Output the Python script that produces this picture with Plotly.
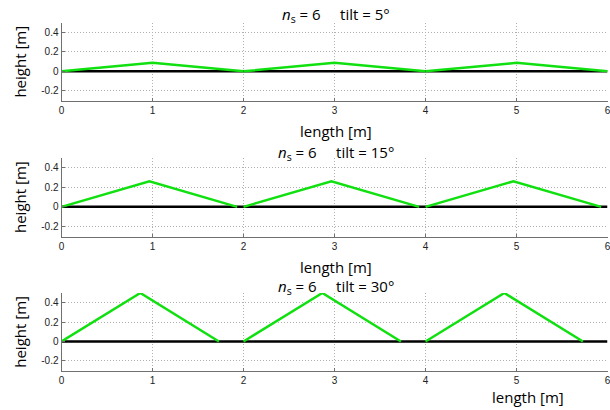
import plotly.graph_objects as go

# ---- data ----
tilts = [5, 15, 30]
n_s = 6
# roof profile points (None breaks the line between panels)
x_tilt5 = [0, 1.0, 2.0, None, 2.0, 3.0, 4.0, None, 4.0, 5.0, 6.0]
y_tilt5 = [0, 0.087, 0, None, 0, 0.087, 0, None, 0, 0.087, 0]
x_tilt15 = [0, 0.966, 1.93, None, 2.0, 2.966, 3.93, None, 4.0, 4.966, 5.93]
y_tilt15 = [0, 0.259, 0, None, 0, 0.259, 0, None, 0, 0.259, 0]
x_tilt30 = [0, 0.866, 1.73, None, 2.0, 2.866, 3.73, None, 4.0, 4.866, 5.73]
y_tilt30 = [0, 0.5, 0, None, 0, 0.5, 0, None, 0, 0.5, 0]
ground_x = [0, 6]
ground_y = [0, 0]
x_ticks = [0, 1, 2, 3, 4, 5, 6]
y_ticks = [-0.2, 0, 0.2, 0.4]
y_ticklabels = ["-0.2", "0", "0.2", "0.4"]

profiles = [(x_tilt5, y_tilt5), (x_tilt15, y_tilt15), (x_tilt30, y_tilt30)]

W, H = 610, 410
xdom = [61.5 / W, 607.5 / W]
# (top_px, bottom_px) of each panel
panels_px = [(22.7, 100.5), (157.5, 236.5), (293.0, 370.5)]

fig = go.Figure()
annotations = []
title_y = [15, 153, 287]
xlabel_pos = [(336, 131), (336, 267), (528, 397)]

for i, ((top, bot), (px, py)) in enumerate(zip(panels_px, profiles)):
    n = i + 1
    xa = "x" if n == 1 else f"x{n}"
    ya = "y" if n == 1 else f"y{n}"
    fig.add_trace(go.Scatter(x=ground_x, y=ground_y, mode="lines",
                             line=dict(color="black", width=2.5),
                             xaxis=xa, yaxis=ya, showlegend=False, hoverinfo="skip"))
    fig.add_trace(go.Scatter(x=px, y=py, mode="lines",
                             line=dict(color="#10e010", width=2.5),
                             xaxis=xa, yaxis=ya, showlegend=False, connectgaps=False))
    ydom = [1 - bot / H, 1 - top / H]
    xkey = "xaxis" if n == 1 else f"xaxis{n}"
    ykey = "yaxis" if n == 1 else f"yaxis{n}"
    fig.update_layout(**{
        xkey: dict(domain=xdom, range=[0, 6], anchor=ya, automargin=False,
                   tickvals=x_ticks, ticktext=[str(t) for t in x_ticks],
                   ticklabeloverflow="allow",
                   showgrid=True, gridcolor="#b0b0b0", griddash="1px,2px", gridwidth=1,
                   showline=True, linecolor="#707070", linewidth=1,
                   ticks="inside", ticklen=3, tickcolor="#707070",
                   tickfont=dict(family="Liberation Sans, Arial", size=10, color="#222"),
                   zeroline=False, fixedrange=True),
        ykey: dict(domain=ydom, range=[-0.3, 0.5], anchor=xa, automargin=False,
                   tickvals=y_ticks, ticktext=y_ticklabels,
                   showgrid=True, gridcolor="#b0b0b0", griddash="1px,2px", gridwidth=1,
                   showline=True, linecolor="#707070", linewidth=1,
                   ticks="inside", ticklen=3, tickcolor="#707070",
                   tickfont=dict(family="Liberation Sans, Arial", size=10, color="#222"),
                   zeroline=False, fixedrange=True),
    })
    # panel title
    annotations.append(dict(
        x=336 / W, y=1 - title_y[i] / H, xref="paper", yref="paper",
        xanchor="center", yanchor="middle", showarrow=False,
        text=f"<i>n</i><sub>s</sub> = {n_s}\u00a0\u00a0\u00a0\u00a0\u00a0tilt = {tilts[i]}°",
        font=dict(family="Open Sans", size=15, color="black")))
    # x label
    annotations.append(dict(
        x=xlabel_pos[i][0] / W, y=1 - xlabel_pos[i][1] / H, xref="paper", yref="paper",
        xanchor="center", yanchor="middle", showarrow=False,
        text="length [m]", font=dict(family="Open Sans", size=15, color="black")))
    # y label
    annotations.append(dict(
        x=20 / W, y=1 - (top + bot) / 2 / H, xref="paper", yref="paper",
        xanchor="center", yanchor="middle", showarrow=False, textangle=-90,
        text="height [m]", font=dict(family="Open Sans", size=15, color="black")))

fig.update_layout(width=W, height=H, margin=dict(l=0, r=0, t=0, b=0),
                  paper_bgcolor="white", plot_bgcolor="white",
                  annotations=annotations, showlegend=False)
fig.write_html("out.html", config={"displayModeBar": False},
               post_script="document.body.style.margin='0';document.body.style.overflow='hidden';")
